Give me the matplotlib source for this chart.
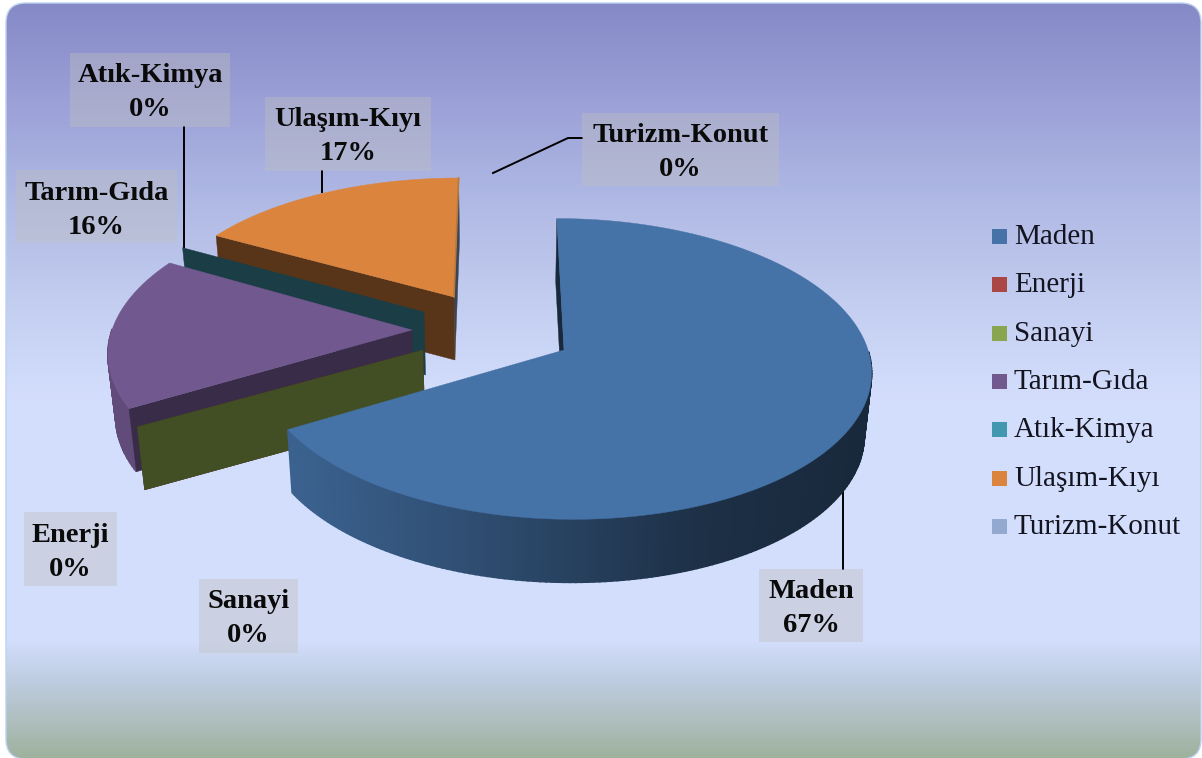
"""Exploded 3D pie of sector shares, drawn by hand in pixel coordinates."""
import numpy as np
import matplotlib
matplotlib.use("Agg")
import matplotlib.pyplot as plt
from matplotlib.patches import FancyBboxPatch, Polygon, Rectangle

categories = ["Maden", "Enerji", "Sanayi", "Tarım-Gıda", "Atık-Kimya", "Ulaşım-Kıyı", "Turizm-Konut"]
# shares in percent, the small ones print as 0%
shares = [66.6, 0.01, 0.03, 16.4, 0.03, 16.9, 0.03]
colors = ["#4572A7", "#AA4643", "#89A54E", "#71588F", "#4198AF", "#DB843D", "#93A9CF"]

W, H = 1202, 758
VX = 500      # vanishing x
PERSP = 0.126
DEPTH = 63

# apex x, apex y, radius x, radius y, darkening of the cut faces
geom = {
    "Maden": (564, 350, 304, 148, 0.36),
    "Enerji": (423, 350, 304, 143, 0.45),
    "Sanayi": (423, 350, 304, 143, 0.48),
    "Tarım-Gıda": (412, 330, 300, 147, 0.5),
    "Atık-Kimya": (424, 312, 298, 141, 0.4),
    "Ulaşım-Kıyı": (454, 297, 292, 134, 0.4),
    "Turizm-Konut": (454, 297, 292, 134, 0.4),
}
draw_order = ["Turizm-Konut", "Ulaşım-Kıyı", "Atık-Kimya", "Tarım-Gıda", "Enerji", "Sanayi", "Maden"]

# text box: left, top, right, bottom
boxes = {
    "Maden": (759, 569, 863, 642),
    "Enerji": (24, 512, 117, 586),
    "Sanayi": (199, 579, 298, 653),
    "Tarım-Gıda": (16, 170, 177, 243),
    "Atık-Kimya": (70, 53, 230, 127),
    "Ulaşım-Kıyı": (265, 97, 431, 171),
    "Turizm-Konut": (582, 113, 779, 186),
}
leaders = [
    ([843, 843], [492, 569]),
    ([184, 184], [127, 247]),
    ([322, 322], [171, 192]),
    ([493, 568, 582], [173, 138, 138]),
]

bg_y = [3, 100, 200, 300, 400, 640, 680, 720, 757]
bg_rgb = [(133, 137, 198), (155, 160, 215), (175, 185, 228), (195, 205, 240), (212, 222, 252),
          (211, 222, 252), (190, 205, 225), (175, 190, 190), (158, 178, 158)]
rim_x = [100, 300, 500, 700, 860]
rim_f = [0.85, 0.85, 0.65, 0.42, 0.36]

plt.rcParams["font.family"] = ["Liberation Serif", "DejaVu Serif"]


def top_point(name, theta):
    ax_, ay, rx, ry, _ = geom[name]
    t = np.radians(theta)
    X, Y = np.sin(t), np.cos(t)
    s = 1.0 / (1.0 + PERSP * Y)
    return VX + (ax_ - VX + rx * X) * s, ay - ry * Y * s


def lower(x, y):
    return x + 0.02 * (VX - x), y + DEPTH


def dark(col, f):
    return tuple(c * f for c in matplotlib.colors.to_rgb(col))


fig = plt.figure(figsize=(W / 100, H / 100), dpi=100)
ax = fig.add_axes([0, 0, 1, 1])
ax.set_xlim(0, W)
ax.set_ylim(H, 0)
ax.axis("off")

# background panel
rows = np.arange(H)
grad = np.stack([np.interp(rows, bg_y, [c[i] for c in bg_rgb]) for i in range(3)], axis=1) / 255
img = ax.imshow(grad[:, None, :], extent=[0, W, H, 0], aspect="auto", zorder=0)
panel = FancyBboxPatch((6, 3), 1195, 756, boxstyle="round,pad=0,rounding_size=20",
                       fc="none", ec="#BCD2EE", lw=1, zorder=1)
ax.add_patch(panel)
img.set_clip_path(panel)
ax.set_xlim(0, W)
ax.set_ylim(H, 0)

# leader lines under the pie
for xs, ys in leaders:
    ax.plot(xs, ys, color="black", lw=1.4, zorder=2)

# slice angles come from the shares, clockwise from the top
edges = np.concatenate([[0], np.cumsum(shares)]) * 3.6
angles = {c: (edges[i], edges[i + 1]) for i, c in enumerate(categories)}
cols = dict(zip(categories, colors))

z = 3
for name in draw_order:
    a0, a1 = angles[name]
    col = cols[name]
    apex = geom[name][:2]
    side = dark(col, geom[name][4])
    th = np.linspace(a0, a1, max(int(a1 - a0), 2))
    arc = [top_point(name, t) for t in th]

    # rim strips (only the near half shows), cut face, then the top
    if a1 - a0 > 1:
        for t, p, q in zip(th[:-1], arc[:-1], arc[1:]):
            if np.cos(np.radians(t)) > 0:
                continue
            f = np.interp((p[0] + q[0]) / 2, rim_x, rim_f)
            c = dark(col, f)
            ax.add_patch(Polygon([p, q, lower(*q), lower(*p)], fc=c, ec=c, lw=1.2, zorder=z))
    p = arc[0]
    ax.add_patch(Polygon([apex, p, lower(*p), lower(*apex)], fc=side, ec=side, lw=0.3, zorder=z))
    # slices this thin only show the cut face
    if a1 - a0 > 1:
        ax.add_patch(Polygon([apex] + arc, fc=col, ec=col, lw=0.3, zorder=z))
    z += 1

# thin lit edge on the right of the orange slice
p = top_point("Ulaşım-Kıyı", angles["Ulaşım-Kıyı"][1])
ax.plot([p[0], geom["Ulaşım-Kıyı"][0]], [p[1], geom["Ulaşım-Kıyı"][1]], color="#B8783C", lw=1.2, zorder=z)

# data labels
for name, share in zip(categories, shares):
    x0, y0, x1, y1 = boxes[name]
    ax.add_patch(Rectangle((x0, y0), x1 - x0, y1 - y0, fc=(0.75, 0.75, 0.75), alpha=0.4, ec="none", zorder=20))
    ax.text((x0 + x1) / 2, y0 + 23, name, ha="center", va="center", fontsize=20.5, fontweight="bold", color="#0a0a0a", zorder=21)
    ax.text((x0 + x1) / 2, y0 + 57, f"{share:.0f}%", ha="center", va="center", fontsize=20.5, fontweight="bold", color="#0a0a0a", zorder=21)

# legend
for i, (name, col) in enumerate(zip(categories, colors)):
    yc = 236.5 + i * 48.3
    ax.add_patch(Rectangle((992, yc - 7.5), 15, 15, fc=col, ec="none", zorder=20))
    ax.text(1014, yc + 0.5, name, ha="left", va="center", fontsize=21, color="#141420", zorder=21)

fig.savefig("out.png", dpi=100, facecolor="white")
